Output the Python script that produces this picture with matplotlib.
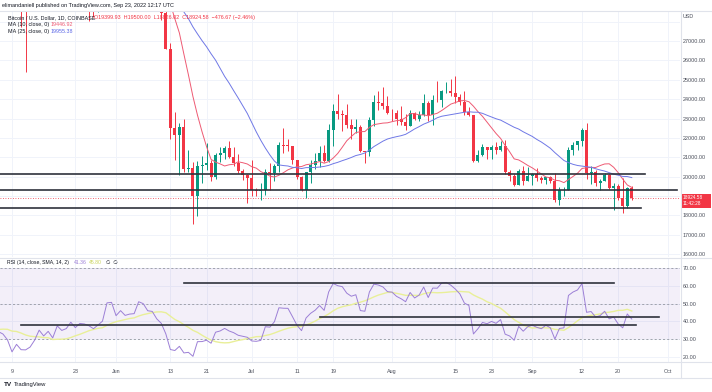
import numpy as np
import pandas as pd
import matplotlib
matplotlib.use("Agg")
import matplotlib.pyplot as plt
from matplotlib.patches import Rectangle

# closes before the visible window (Apr 1 - May 4), only used to warm up MA / RSI
warmup_close = [46300, 45830, 46420, 46600, 45500, 43170, 43450, 42270, 42760, 42160,
                39520, 40080, 41150, 39940, 40550, 40400, 39700, 40800, 41500, 41360,
                40480, 39710, 39470, 39450, 40430, 38110, 39240, 39740, 38600, 37640,
                38470, 38520, 37720, 39690]

# daily candles, May 5 - Sep 23 2022 (BTCUSD, Coinbase)
opens = [
    # May 5-31
    39690, 36550, 36010, 35470, 34040, 30080, 31010, 29030, 28950, 29280, 30080, 31320, 29840, 30420,
    28700, 30310, 29180, 29430, 30280, 29100, 29650, 29540, 29200, 28630, 29020, 29440, 31730,
    # Jun
    31800, 29800, 30460, 29700, 29860, 29910, 31370, 31130, 30200, 30110, 29090, 28420, 26590, 22490, 22150,
    22580, 20400, 20460, 19010, 20570, 20580, 20720, 19970, 21100, 21230, 21490, 21030, 20730, 20270, 20100,
    # Jul
    19930, 19300, 19240, 19300, 20230, 20180, 20550, 21640, 21600, 21590, 20850, 19960, 19330, 20230, 20590, 20830,
    21200, 20790, 22430, 23400, 23230, 23160, 22680, 22450, 22580, 21310, 21250, 22950, 23850, 23780, 23640,
    # Aug
    23300, 23270, 22980, 22820, 22620, 23310, 22960, 23180, 23810, 23160, 23950, 23940, 24400, 24440, 24300, 24100,
    23850, 23340, 23200, 20830, 21140, 21520, 21400, 21530, 21370, 21570, 20240, 20040, 19550, 20290, 19800,
    # Sep 1-23
    20050, 20130, 19950, 19830, 19990, 19800, 18790, 19290, 19320, 21360, 21650, 21830, 22400, 20170, 20230,
    19700, 19800, 20110, 19420, 19540, 18880, 18490, 19400,
]
highs = [
    39840, 36650, 36120, 35500, 34240, 32650, 32180, 30030, 30990, 30330, 31440, 31320, 30780, 30680,
    30540, 30770, 29620, 30440, 30660, 29800, 30180, 29850, 29380, 29220, 29530, 32200, 32380,
    31960, 30650, 30680, 29950, 30170, 31760, 31560, 31320, 30690, 30350, 29440, 28550, 26900, 23350, 22790,
    22980, 21360, 20760, 20800, 21050, 21720, 20880, 21200, 21520, 21600, 21860, 21520, 21190, 20420, 20140,
    20870, 19430, 19650, 20380, 20730, 20650, 21810, 22500, 21950, 21600, 20860, 20050, 20220, 20880, 21200, 21580,
    21650, 22740, 23750, 24280, 23430, 23760, 22990, 23000, 22650, 21330, 23100, 24200, 24420, 24650, 24170,
    23500, 23450, 23640, 23210, 23450, 23350, 23400, 24240, 23920, 24230, 24920, 24450, 24890, 25050, 25210, 24250,
    24440, 23600, 23200, 21370, 21700, 21530, 21660, 21800, 21820, 21880, 20330, 20140, 20410, 20570, 20480,
    20200, 20440, 20050, 20000, 20060, 20180, 19450, 19460, 21540, 21800, 21860, 22490, 22790, 20550, 20340,
    19880, 20190, 20120, 19690, 19640, 19950, 19490, 19500,
]
lows = [
    35860, 35250, 34780, 33710, 30030, 29730, 27700, 25400, 28740, 28600, 29500, 29090, 29460, 28700,
    28650, 28710, 28930, 29250, 28890, 28650, 29310, 28020, 28260, 28490, 28800, 29300, 31220,
    29350, 29590, 29270, 29490, 29520, 29880, 29230, 29860, 29960, 28850, 28100, 26570, 21930, 20850, 20080,
    20250, 20250, 17570, 17960, 19660, 20350, 19780, 19900, 20760, 20910, 20990, 20530, 20200, 19850, 18620,
    19000, 19010, 18780, 19060, 19300, 19780, 20260, 21200, 21320, 20650, 19880, 19250, 18910, 19650, 20400, 20480,
    20760, 20760, 21580, 23000, 22340, 22500, 21950, 22270, 21260, 20710, 21050, 22590, 23450, 23500, 23220,
    22850, 22660, 22680, 22430, 22590, 22910, 22870, 23150, 22880, 22670, 23870, 23590, 24310, 24170, 23790, 23700,
    23200, 23110, 20780, 20770, 21060, 20890, 20900, 21150, 21320, 20140, 19800, 19540, 19550, 19550, 19800,
    19580, 19760, 19660, 19600, 19650, 18680, 18540, 19010, 19300, 21120, 21360, 21570, 19870, 19640, 19500,
    19320, 19760, 19350, 18270, 18800, 18130, 18370, 18822,
]
closes = [
    36550, 36010, 35470, 34040, 30080, 31010, 29030, 28950, 29280, 30080, 31320, 29840, 30420, 28700,
    30310, 29180, 29430, 30280, 29100, 29650, 29540, 29200, 28630, 29020, 29440, 31730, 31800,
    29800, 30460, 29700, 29860, 29910, 31370, 31130, 30200, 30110, 29090, 28420, 26590, 22490, 22150, 22580,
    20400, 20460, 19010, 20570, 20580, 20720, 19970, 21100, 21230, 21490, 21030, 20730, 20270, 20100, 19930,
    19300, 19240, 19300, 20230, 20180, 20550, 21640, 21600, 21590, 20850, 19960, 19330, 20230, 20590, 20830, 21200,
    20790, 22430, 23400, 23230, 23160, 22680, 22450, 22580, 21310, 21250, 22950, 23850, 23780, 23640, 23300,
    23270, 22980, 22820, 22620, 23310, 22960, 23180, 23810, 23160, 23950, 23940, 24400, 24440, 24300, 24100, 23850,
    23340, 23200, 20830, 21140, 21520, 21400, 21530, 21370, 21570, 20240, 20040, 19550, 20290, 19800, 20050,
    20130, 19950, 19830, 19990, 19800, 18790, 19290, 19320, 21360, 21650, 21830, 22400, 20170, 20230, 19700,
    19800, 20110, 19420, 19540, 18880, 18490, 19401.25, 18924.58,
]

tick_dates = ["2022-05-09", "2022-05-23", "2022-06-01", "2022-06-13", "2022-06-21", "2022-07-01",
              "2022-07-11", "2022-07-19", "2022-08-01", "2022-08-15", "2022-08-23", "2022-09-01",
              "2022-09-12", "2022-09-20", "2022-10-01"]
tick_labels = ["9", "23", "Jun", "13", "21", "Jul", "11", "19", "Aug", "15", "23", "Sep", "12", "20", "Oct"]
# price scale labels (19000 is hidden behind the last-price tag)
price_ticks = [16000, 17000, 18000, 20000, 21000, 22000, 23000, 24000, 25000, 26000, 27000]

# legend values as printed on the chart
ma10_label, ma25_label = "19446.92", "19955.38"
rsi_label, rsi_sma_label = "41.36", "45.80"

# author's horizontal lines: (level, start date, end date)
price_lines = [(20155, "2022-05-06", "2022-09-26"),
               (19299, "2022-05-06", "2022-10-03"),
               (18386, "2022-05-06", "2022-09-25")]
rsi_lines = [(61.9, "2022-06-16", "2022-09-19"),
             (42.4, "2022-07-16", "2022-09-29"),
             (38.0, "2022-05-11", "2022-09-24")]

dates = pd.date_range("2022-05-05", periods=len(closes))
all_dates = pd.date_range("2022-04-01", periods=len(warmup_close) + len(closes))
base = pd.Timestamp("2022-05-09")


def dx(d):
    return (pd.Timestamp(d) - base).days


xs = np.array([(d - base).days for d in dates])

# indicators
s = pd.Series(warmup_close + closes, index=all_dates, dtype=float)
ma10 = s.rolling(10).mean()
ma25 = s.rolling(25).mean()


def rma(vals, n):
    out = np.full(len(vals), np.nan)
    out[n] = np.mean(vals[1:n + 1])
    for i in range(n + 1, len(vals)):
        out[i] = (out[i - 1] * (n - 1) + vals[i]) / n
    return out


delta = s.diff().values
up = rma(np.where(delta > 0, delta, 0.0), 14)
dn = rma(np.where(delta < 0, -delta, 0.0), 14)
rsi = pd.Series(100 - 100 / (1 + up / dn), index=all_dates)
rsi_sma = rsi.rolling(14).mean()
vis = slice(len(warmup_close), None)

# ---- figure ----
W, H = 712, 392
fig = plt.figure(figsize=(W / 100, H / 100), dpi=100)
plt.rcParams['font.family'] = ['Liberation Sans', 'DejaVu Sans']


def rect(x0, y0, x1, y1):
    return [x0 / W, 1 - y1 / H, (x1 - x0) / W, (y1 - y0) / H]


def fx(x):
    return x / W


def fy(y):
    return 1 - y / H


UP, DOWN = '#089981', '#f23645'
GRID = '#f0f3fa'
TXT = '#131722'
AX = '#4a4e5a'
FS = 3.9
xlim = (-12 / 4.524, 668 / 4.524)

ax = fig.add_axes(rect(0, 11, 680, 257))
ar = fig.add_axes(rect(0, 258, 680, 362))

tpos = [dx(d) for d in tick_dates]
for a in (ax, ar):
    a.set_xlim(*xlim)
    for sp in a.spines.values():
        sp.set_visible(False)
    for t in tpos:
        a.axvline(t, color=GRID, lw=0.7, zorder=0)
    a.yaxis.tick_right()
    a.tick_params(axis='y', length=0, pad=2.2, labelsize=FS, labelcolor=AX)
    a.tick_params(axis='x', length=0)

# price panel
ax.set_ylim(15859, 28546)
ax.set_yticks(price_ticks)
ax.set_yticklabels([f"{p:.2f}" for p in price_ticks])
for p in range(16000, 29000, 1000):
    ax.axhline(p, color=GRID, lw=0.7, zorder=0)
ax.set_xticks([])

colors = [UP if c >= o else DOWN for o, c in zip(opens, closes)]
ax.vlines(xs, lows, highs, colors=colors, lw=0.7, zorder=2)
bottoms = np.minimum(opens, closes)
heights = np.maximum(np.abs(np.array(closes) - np.array(opens)), 25)
ax.bar(xs, heights, bottom=bottoms, width=0.66, color=colors, zorder=3, linewidth=0)

ax.plot(xs, ma10.values[vis], color='#ee5a73', lw=0.7, zorder=4)
ax.plot(xs, ma25.values[vis], color='#6f78e6', lw=0.7, zorder=4)
ax.axhline(closes[-1], color=DOWN, lw=0.6, ls=(0, (1, 2)), zorder=1)

for lvl, d0, d1 in price_lines:
    ax.plot([dx(d0), dx(d1)], [lvl, lvl], color='#2f323c', lw=1.2, zorder=5, clip_on=False)

# rsi panel
ar.set_ylim(17.0, 75.8)
rticks = [20, 30, 40, 50, 60, 70]
ar.set_yticks(rticks)
ar.set_yticklabels([f"{r:.2f}" for r in rticks])
for r in rticks:
    ar.axhline(r, color=GRID, lw=0.7, zorder=0)
ar.axhspan(30, 70, color='#7e57c2', alpha=0.09, lw=0, zorder=0)
for r in (70, 50, 30):
    ar.axhline(r, color='#9598a1', lw=0.6, ls=(0, (2.5, 2.5)), zorder=1)
ar.plot(xs, rsi_sma.values[vis], color='#e9ef98', lw=1.0, zorder=2)
ar.plot(xs, rsi.values[vis], color='#9c7fd6', lw=0.7, zorder=3)
for lvl, d0, d1 in rsi_lines:
    ar.plot([dx(d0), dx(d1)], [lvl, lvl], color='#2f323c', lw=1.2, zorder=5)

ar.set_xticks(tpos)
ar.set_xticklabels(tick_labels)
ar.tick_params(axis='x', labelsize=FS, labelcolor=AX, pad=5)

# frame lines
fig.add_artist(plt.Line2D([0, 1], [fy(257.5), fy(257.5)], color='#e0e3eb', lw=0.8))
fig.add_artist(plt.Line2D([0, 1], [fy(362), fy(362)], color='#e0e3eb', lw=0.8))
fig.add_artist(plt.Line2D([fx(680.5), fx(680.5)], [fy(11), fy(378)], color='#e0e3eb', lw=0.8))
fig.add_artist(plt.Line2D([0, 1], [fy(378), fy(378)], color='#e0e3eb', lw=0.8))
fig.add_artist(plt.Line2D([0, 1], [fy(11), fy(11)], color='#e0e3eb', lw=0.8))

# last price label
fig.add_artist(Rectangle((fx(680.5), fy(207.5)), fx(30), fy(193.5) - fy(207.5),
                         color=DOWN, lw=0))
fig.text(fx(683), fy(197.3), f"{closes[-1]:.2f}", color='white', fontsize=3.4, va='center')
fig.text(fx(683), fy(203.7), "11:42:28", color='white', fontsize=3.4, va='center')
fig.text(fx(683), fy(16), "USD", color=AX, fontsize=FS, va='center')

# header texts
fig.text(fx(2), fy(5), "elimandaniell published on TradingView.com, Sep 23, 2022 12:17 UTC",
         color=TXT, fontsize=4.0, va='center')
fig.text(fx(8), fy(17.5), "Bitcoin / U.S. Dollar, 1D, COINBASE", color=TXT, fontsize=FS, va='center')
fig.text(fx(94), fy(17.5), "O19399.93  H19500.00  L18826.02  C18924.58  \u2212476.67 (\u22122.46%)",
         color=DOWN, fontsize=FS, va='center')
fig.text(fx(8), fy(24.5), "MA (10, close, 0)", color=TXT, fontsize=FS, va='center')
fig.text(fx(51), fy(24.5), ma10_label, color='#ee5a73', fontsize=FS, va='center')
fig.text(fx(8), fy(31.7), "MA (25, close, 0)", color=TXT, fontsize=FS, va='center')
fig.text(fx(51), fy(31.7), ma25_label, color='#5b67e6', fontsize=FS, va='center')

fig.text(fx(7), fy(262.5), "RSI (14, close, SMA, 14, 2)", color=TXT, fontsize=3.7, va='center')
fig.text(fx(74), fy(262.5), rsi_label, color='#9c7fd6', fontsize=3.7, va='center')
fig.text(fx(89), fy(262.5), rsi_sma_label, color='#c9d35a', fontsize=3.7, va='center')
fig.text(fx(106), fy(262.5), "\u2205  \u2205", color=TXT, fontsize=3.7, va='center')

fig.text(fx(4), fy(384.5), "TV", color=TXT, fontsize=4.6, fontweight='bold', va='center')
fig.text(fx(14), fy(384.5), "TradingView", color=TXT, fontsize=4.2, va='center')

fig.savefig("out.png", dpi=100, facecolor='white')
